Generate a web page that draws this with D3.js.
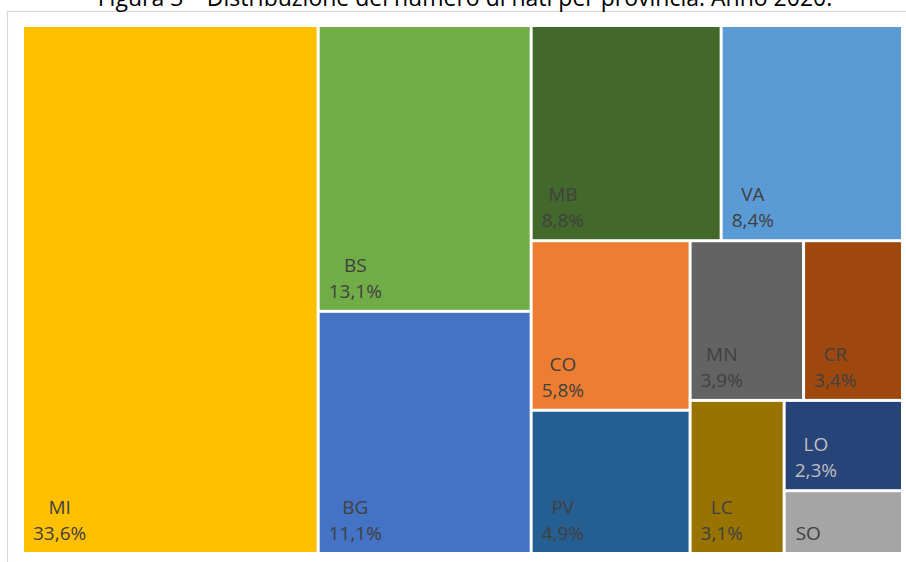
<!DOCTYPE html>
<html>
<head>
<meta charset="utf-8">
<script src="https://cdn.jsdelivr.net/npm/d3@7"></script>
<style>
  html, body { margin: 0; padding: 0; background: #ffffff; }
  svg { display: block; }
</style>
</head>
<body>
<svg id="chart" width="906" height="562"></svg>
<script>
// Births by province, Lombardy, 2020 (share of total, %)
const provinces = ["MI", "BS", "BG", "MB", "VA", "CO", "PV", "MN", "CR", "LC", "LO", "SO"];
const shares    = [33.6, 13.1, 11.1, 8.8, 8.4, 5.8, 4.9, 3.9, 3.4, 3.1, 2.3, 1.6];
const fills     = ["#FFC000", "#70AD47", "#4472C4", "#43682B", "#5B9BD5", "#ED7D31",
                   "#255E91", "#636363", "#9E480E", "#997300", "#264478", "#A5A5A5"];
const labelInk  = ["#404040", "#404040", "#404040", "#404040", "#404040", "#404040",
                   "#404040", "#404040", "#404040", "#404040", "#BFBFBF", "#404040"];
const showShare = [true, true, true, true, true, true, true, true, true, true, true, false];

const titleText = "Figura 3 – Distribuzione del numero di nati per provincia. Anno 2020.";
const fontFamily = "'Open Sans', 'Liberation Sans', sans-serif";

const svg = d3.select("#chart");

// outer frame of the chart area
svg.append("rect")
  .attr("x", 7.5).attr("y", 11.5)
  .attr("width", 910).attr("height", 560)
  .attr("fill", "none")
  .attr("stroke", "#D9D9D9")
  .attr("stroke-width", 1.2);

// title (partly above the visible area)
svg.append("text")
  .attr("x", 465).attr("y", 6)
  .attr("text-anchor", "middle")
  .attr("font-family", fontFamily)
  .attr("font-size", 23)
  .attr("fill", "#000000")
  .text(titleText);

const table = provinces.map((p, i) => ({
  name: p, value: shares[i], fill: fills[i], ink: labelInk[i], showShare: showShare[i]
}));

const root = d3.hierarchy({ children: table })
  .sum(d => d.value || 0)
  .sort((a, b) => b.value - a.value);

d3.treemap()
  .tile(d3.treemapSquarify.ratio(1))
  .size([877, 525])
  .paddingInner(3)(root);

const g = svg.append("g").attr("transform", "translate(24,27)");

const cell = g.selectAll("g.cell")
  .data(root.leaves())
  .join("g")
  .attr("class", "cell");

cell.append("rect")
  .attr("x", d => d.x0)
  .attr("y", d => d.y0)
  .attr("width", d => d.x1 - d.x0)
  .attr("height", d => d.y1 - d.y0)
  .attr("fill", d => d.data.fill);

const fmtShare = v => d3.format(".1f")(v).replace(".", ",") + "%";

cell.each(function(d) {
  const c = d3.select(this);
  const left = d.x0 + 9;
  const bottom = d.y1 - 12;
  if (d.data.showShare) {
    const pct = c.append("text")
      .attr("x", left).attr("y", bottom)
      .attr("font-family", fontFamily)
      .attr("font-size", 19)
      .attr("fill", d.data.ink)
      .text(fmtShare(d.data.value));
    const w = pct.node().getComputedTextLength();
    c.append("text")
      .attr("x", left + w / 2).attr("y", bottom - 26)
      .attr("text-anchor", "middle")
      .attr("font-family", fontFamily)
      .attr("font-size", 19)
      .attr("fill", d.data.ink)
      .text(d.data.name);
  } else {
    c.append("text")
      .attr("x", left + 1).attr("y", bottom)
      .attr("font-family", fontFamily)
      .attr("font-size", 19)
      .attr("fill", d.data.ink)
      .text(d.data.name);
  }
});
</script>
</body>
</html>
